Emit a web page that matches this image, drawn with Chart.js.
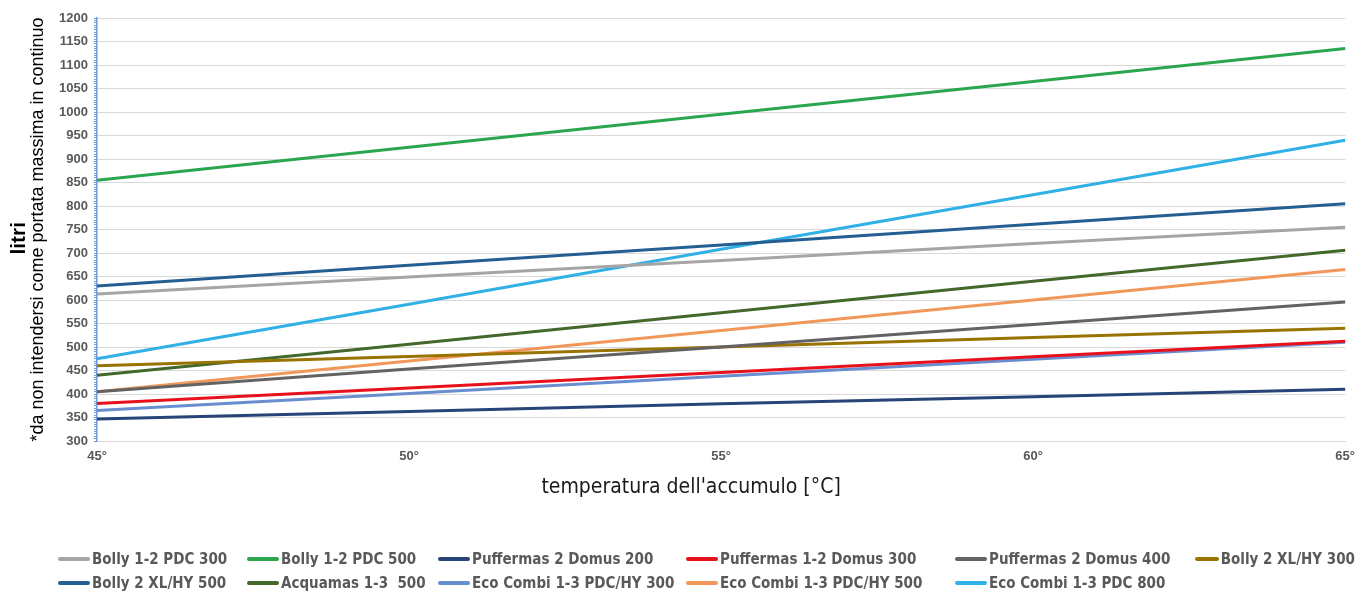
<!DOCTYPE html>
<html>
<head>
<meta charset="utf-8">
<script src="https://cdn.jsdelivr.net/npm/chart.js@4.4.1/dist/chart.umd.min.js"></script>
<style>
  html, body { margin: 0; padding: 0; background: #ffffff; }
  #wrap { position: relative; width: 1363px; height: 594px; overflow: hidden; }
  #chartBox { position: absolute; left: 0; top: 0; width: 1363px; height: 594px; }
  #legend {
    position: absolute; left: 58px; top: 547px;
    display: grid;
    grid-template-columns: 189px 191px 248px 269px 240px 160px;
    grid-auto-rows: 24px;
    font-family: "DejaVu Sans Condensed", "DejaVu Sans", sans-serif;
    font-stretch: condensed;
    font-weight: bold; font-size: 15px; color: #595959;
  }
  #legend .item { display: flex; align-items: center; white-space: pre; }
  #legend .swatch { display: inline-block; width: 32px; height: 4px; margin-right: 2px; border-radius: 2px; }
</style>
</head>
<body>
<div id="wrap">
  <div id="chartBox"><canvas id="c"></canvas></div>
  <div id="legend"></div>
</div>
<script>
// ---- data ----
const categories = ['45°', '50°', '55°', '60°', '65°'];

const seriesNames = [
  'Bolly 1-2 PDC 300',
  'Bolly 1-2 PDC 500',
  'Puffermas 2 Domus 200',
  'Puffermas 1-2 Domus 300',
  'Puffermas 2 Domus 400',
  'Bolly 2 XL/HY 300',
  'Bolly 2 XL/HY 500',
  'Acquamas 1-3  500',
  'Eco Combi 1-3 PDC/HY 300',
  'Eco Combi 1-3 PDC/HY 500',
  'Eco Combi 1-3 PDC 800'
];

const bolly12Pdc300     = [613, 649, 684, 720, 755];
const bolly12Pdc500     = [855, 925, 995, 1065, 1135];
const puffermas2Dom200  = [347, 363, 379, 394, 410];
const puffermas12Dom300 = [380, 413, 446, 479, 512];
const puffermas2Dom400  = [405, 453, 500, 548, 596];
const bolly2XlHy300     = [460, 480, 500, 520, 540];
const bolly2XlHy500     = [630, 674, 717, 761, 805];
const acquamas13_500    = [440, 506, 573, 640, 706];
const ecoCombiHy300     = [365, 401, 438, 474, 510];
const ecoCombiHy500     = [405, 470, 535, 600, 665];
const ecoCombiPdc800    = [475, 591, 708, 824, 940];

const seriesValues = [
  bolly12Pdc300, bolly12Pdc500, puffermas2Dom200, puffermas12Dom300,
  puffermas2Dom400, bolly2XlHy300, bolly2XlHy500, acquamas13_500,
  ecoCombiHy300, ecoCombiHy500, ecoCombiPdc800
];

const seriesColors = [
  '#a5a5a5', '#2aa64f', '#264478', '#e8111b', '#636363', '#997300',
  '#255e91', '#43682b', '#698ed0', '#f1975a', '#2fb0e6'
];

const yMin = 300, yMax = 1200, yMajor = 50, yMinor = 5;

// ---- chart ----
const datasets = seriesNames.map((name, i) => ({
  label: name,
  data: seriesValues[i],
  borderColor: seriesColors[i],
  backgroundColor: seriesColors[i],
  borderWidth: 3,
  pointRadius: 0,
  pointHoverRadius: 0,
  tension: 0,
  fill: false
}));

const htmlLegend = {
  id: 'htmlLegend',
  afterUpdate(chart) {
    const box = document.getElementById('legend');
    box.innerHTML = '';
    const items = chart.options.plugins.legend.labels.generateLabels(chart);
    items.forEach(it => {
      const d = document.createElement('div');
      d.className = 'item';
      const s = document.createElement('span');
      s.className = 'swatch';
      s.style.background = it.strokeStyle;
      const t = document.createElement('span');
      t.textContent = it.text;
      d.appendChild(s); d.appendChild(t);
      box.appendChild(d);
    });
  }
};

const NB = '\u00a0';

new Chart(document.getElementById('c'), {
  type: 'line',
  data: { labels: categories, datasets },
  plugins: [htmlLegend],
  options: {
    responsive: true,
    maintainAspectRatio: false,
    animation: false,
    layout: { autoPadding: false, padding: { top: 18, right: 16, bottom: 93, left: 0 } },
    plugins: {
      legend: { display: false },
      tooltip: { enabled: false }
    },
    scales: {
      x: {
        type: 'category',
        offset: false,
        grid: { display: false, drawTicks: false },
        border: { display: true, color: '#d9d9d9', width: 1 },
        ticks: {
          color: '#595959',
          padding: 8,
          maxRotation: 0,
          font: { family: 'Liberation Sans, Arial, sans-serif', size: 13, weight: 'bold' }
        },
        title: {
          display: true,
          text: "temperatura dell'accumulo [°C]" + NB.repeat(10),
          color: '#1a1a1a',
          padding: { top: 0, bottom: 1 },
          font: { family: 'DejaVu Sans Condensed, DejaVu Sans, sans-serif', size: 21 }
        },
        afterFit(scale) { scale.height = 60; }
      },
      y: {
        type: 'linear',
        position: 'left',
        weight: 0,
        min: yMin,
        max: yMax,
        grid: {
          color: (ctx) => (ctx.tick && ctx.tick.value % yMajor === 0) ? '#d9d9d9' : 'rgba(0,0,0,0)',
          tickColor: '#7098d8',
          tickLength: 3,
          lineWidth: 1
        },
        border: { display: true, color: '#7098d8', width: 1.5 },
        ticks: {
          stepSize: yMinor,
          autoSkip: false,
          color: '#595959',
          padding: 6,
          font: { family: 'Liberation Sans, Arial, sans-serif', size: 13, weight: 'bold' },
          callback: (v) => (v % yMajor === 0 ? String(v) : '')
        },
        title: {
          display: true,
          text: '*da non intendersi come portata massima in continuo',
          color: '#000000',
          padding: { top: 0, bottom: 0 },
          font: { family: 'Liberation Sans, Arial, sans-serif', size: 18 }
        },
        afterFit(scale) { scale.width = 70; }
      },
      yTitle: {
        type: 'linear',
        position: 'left',
        weight: 1,
        grid: { display: false, drawTicks: false },
        border: { display: false },
        ticks: { display: false },
        title: {
          display: true,
          text: 'litri' + NB.repeat(3),
          color: '#000000',
          padding: { top: 7, bottom: 0 },
          font: { family: 'Liberation Sans, Arial, sans-serif', size: 21, weight: 'bold' }
        },
        afterFit(scale) { scale.width = 27; }
      }
    }
  }
});
</script>
</body>
</html>
